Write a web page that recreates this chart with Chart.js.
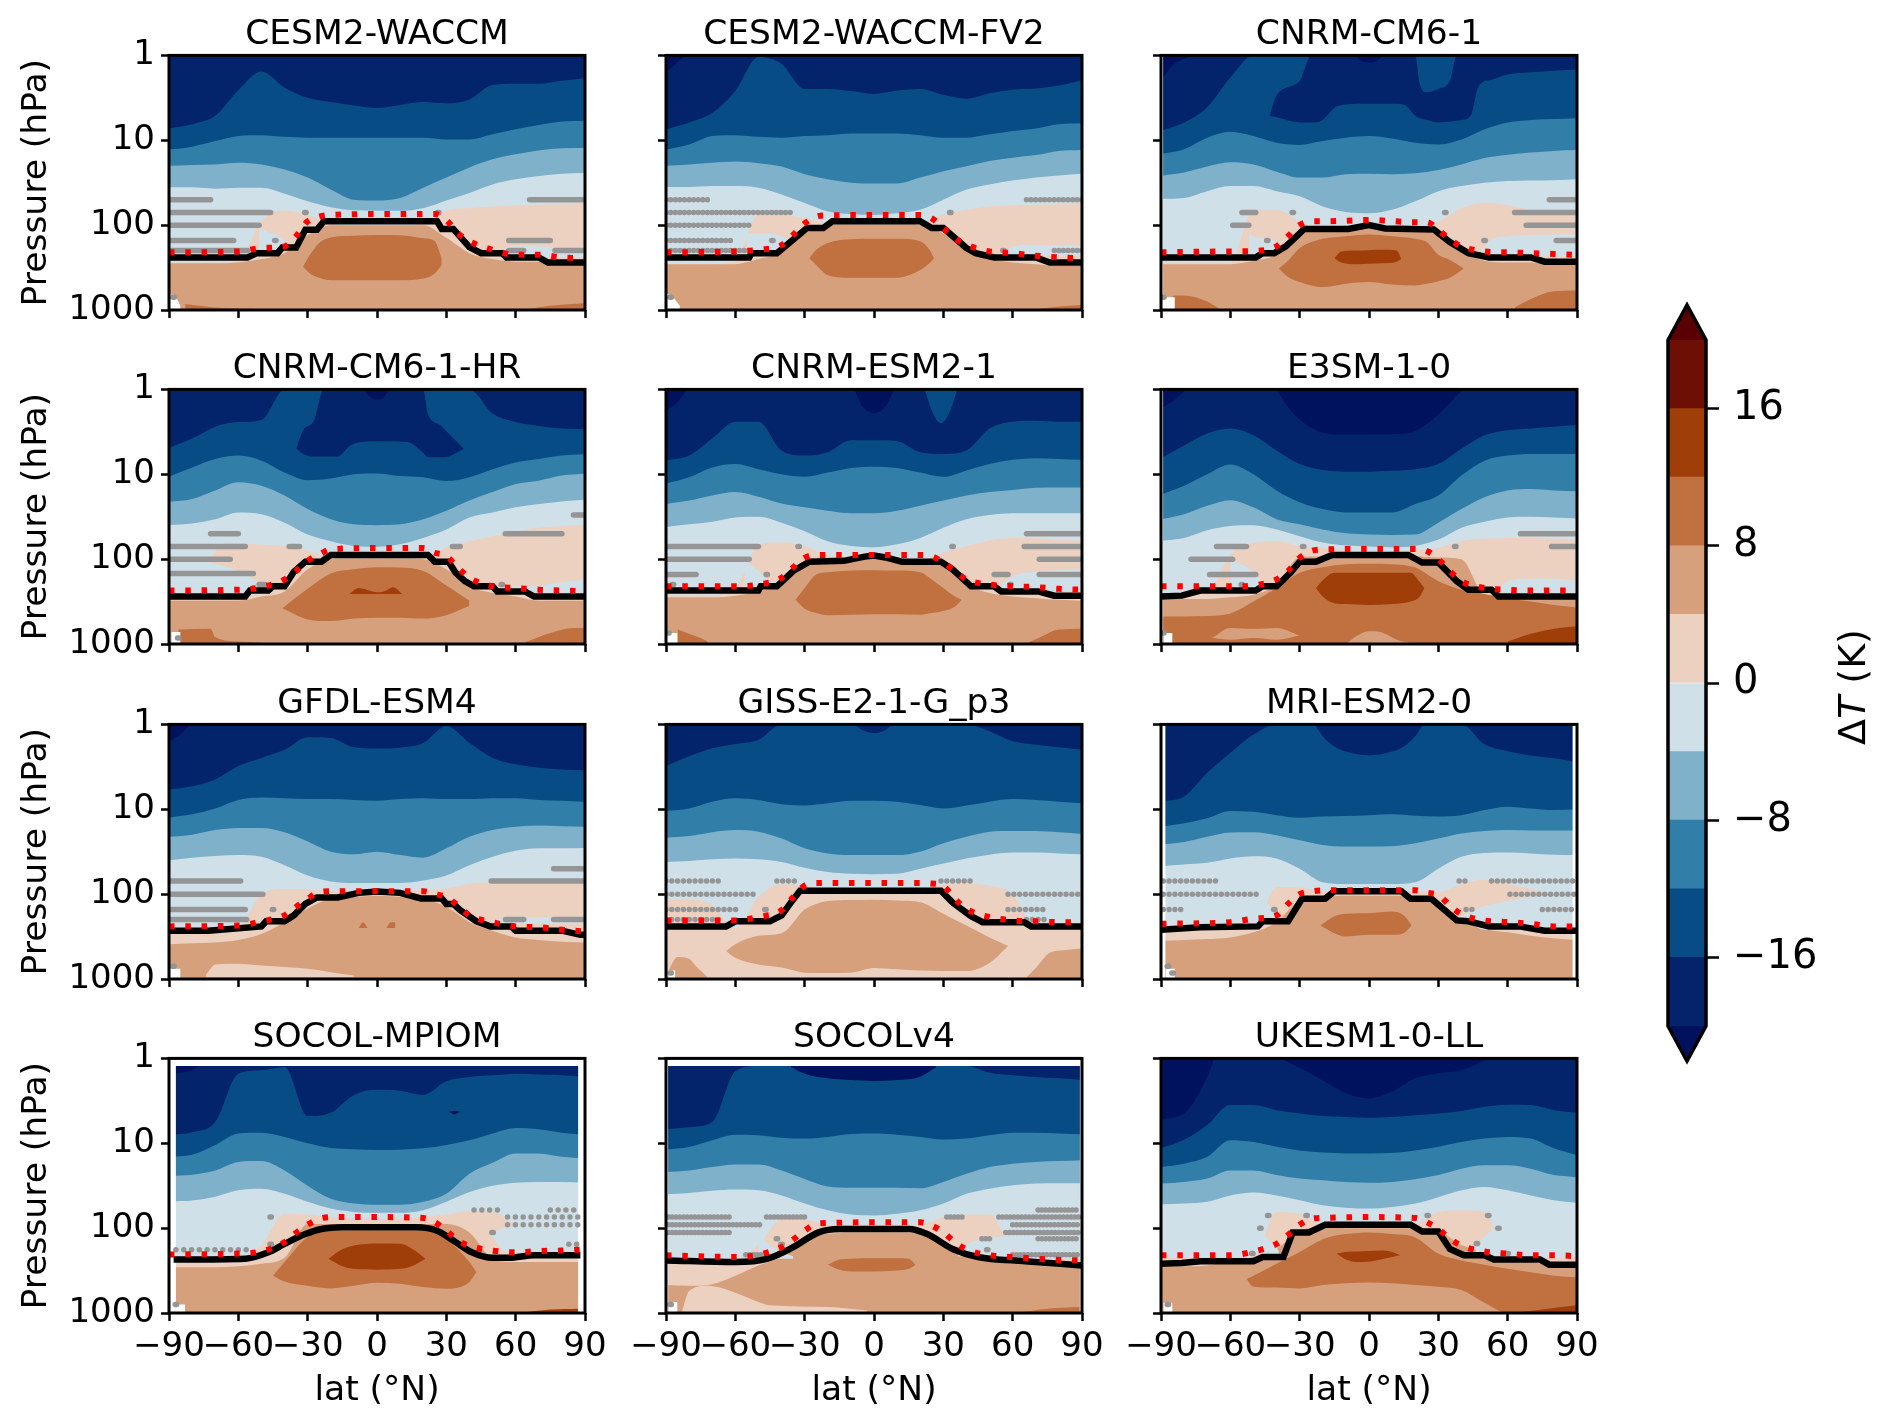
<!DOCTYPE html>
<html><head><meta charset="utf-8">
<style>html,body{margin:0;padding:0;background:#fff;width:1892px;height:1426px;overflow:hidden}
canvas{position:absolute;filter:blur(0.5px)}</style>
<script src="https://cdn.jsdelivr.net/npm/chart.js@4/dist/chart.umd.js"></script>
</head><body>
<script>
const TITLES=['CESM2-WACCM','CESM2-WACCM-FV2','CNRM-CM6-1','CNRM-CM6-1-HR','CNRM-ESM2-1','E3SM-1-0','GFDL-ESM4','GISS-E2-1-G_p3','MRI-ESM2-0','SOCOL-MPIOM','SOCOLv4','UKESM1-0-LL'];
const LATS=[-90,-80,-70,-60,-50,-40,-30,-20,-10,0,10,20,30,40,50,60,70,80,90];
const RED_LATS=[-90,-60,-50,-40,-35,-30,-25,-20,0,20,25,30,35,40,50,60,70,80,90];
const Y_TICKS=[1,10,100,1000];
const X_TICKS=[-90,-60,-30,0,30,60,90];
const CB_EDGES=[-20,-16,-12,-8,-4,0,4,8,12,16,20];
const CB_TICKS=[-16,-8,0,8,16];
const CB_COLORS=['#03246a','#084c86','#317ea8','#7fb1cb','#d0e0e8','#ecd0c0','#d6a07c','#c17040','#a03e0a','#6e0f05'];
const CB_LOW='#00125e',CB_HIGH='#5a0005';
const PAL={DK:CB_LOW,NV:CB_COLORS[0],B2:CB_COLORS[1],BL:CB_COLORS[4],PK:CB_COLORS[5],TN:CB_COLORS[6],OR:CB_COLORS[7],RD:CB_COLORS[8],WH:'#ffffff'};
// all curves: log10(pressure / hPa) on LATS, contour levels -16,-12,-8,-4,0,+4 K
const M16=[
[.86,.81,.71,.41,.19,.38,.50,.55,.59,.62,.585,.55,.565,.52,.35,.335,.335,.30,.27],
[.87,.79,.68,.42,.02,.10,.395,.395,.42,.455,.415,.395,.465,.51,.445,.405,.39,.355,.295],
[.89,.79,.61,.26,0,0,0,0,0,0,0,0,0,0,.30,.225,.20,.18,.17],
[.69,.58,.44,.385,.36,0,0,0,0,0,0,0,0,0,.285,.385,.43,.46,.47],
[.84,.78,.58,.38,.38,.72,.78,.74,.60,.60,.61,.74,.76,.72,.46,.38,.37,.38,.38],
[.81,.66,.52,.46,.54,.72,.88,.95,.97,.97,.96,.94,.88,.70,.54,.48,.46,.44,.42],
[.77,.73,.65,.49,.395,.30,.15,.16,.27,.285,.275,.22,.02,.22,.395,.47,.51,.53,.54],
[.49,.375,.28,.23,.18,0,0,0,0,0,0,0,0,0,.08,.20,.24,.27,.30],
[.91,.85,.57,.335,.12,0,0,0,0,0,0,0,0,0,.235,.315,.365,.40,.445],
[.90,.87,.75,.18,.14,.10,.68,.64,.43,.37,.38,.43,.27,.22,.20,.18,.19,.20,.22],
[.835,.81,.75,.15,.09,.09,.09,.09,.09,.09,.09,.09,.09,.09,.17,.20,.22,.235,.255],
[1.06,.96,.785,.55,.55,.61,.65,.68,.69,.70,.69,.67,.65,.62,.57,.545,.55,.61,.64]];
const M12=[
[1.11,1.075,1.01,.95,.94,.96,.97,.97,.97,.97,.97,.97,.99,.99,.93,.87,.82,.78,.77],
[1.11,1.05,.95,.94,.96,.97,.95,.94,.92,.92,.92,.94,.97,.97,.93,.89,.86,.81,.80],
[1.16,1.105,.97,.90,.95,1.03,1.055,1.01,.97,.95,.98,1.03,1.05,.99,.87,.79,.76,.75,.74],
[1.03,.92,.82,.78,.84,.98,1.07,1.05,1.0,.99,1.02,1.035,1.08,1.035,.94,.86,.82,.78,.765],
[1.11,1.035,.92,.88,.94,1.0,1.03,.98,.925,.91,.925,.98,1.03,.955,.88,.83,.81,.82,.83],
[1.24,1.135,1.0,.885,1.0,1.19,1.33,1.41,1.45,1.45,1.45,1.35,1.25,1.015,.84,.78,.76,.76,.76],
[1.10,1.06,.99,.89,.86,.87,.88,.88,.89,.90,.88,.87,.88,.88,.87,.87,.89,.90,.91],
[1.02,.99,.91,.87,.89,.94,.955,.93,.90,.90,.91,.95,.99,.955,.91,.88,.89,.91,.93],
[1.205,1.165,1.105,1.02,1.03,1.07,1.10,1.085,1.08,1.07,1.06,1.075,1.085,1.07,1.01,.97,.99,1.01,1.0],
[1.16,1.135,1.02,.885,.875,.925,1.0,1.055,1.07,1.08,1.075,1.06,1.02,.965,.885,.82,.835,.875,.90],
[1.075,1.045,.965,.90,.905,.935,.945,.925,.89,.885,.90,.925,.955,.945,.905,.875,.875,.885,.895],
[1.28,1.24,1.16,.965,.985,1.04,1.085,1.11,1.12,1.12,1.115,1.085,1.04,.985,.945,.925,.945,1.06,1.14]];
const M8=[
[1.30,1.29,1.285,1.265,1.285,1.345,1.44,1.58,1.70,1.71,1.68,1.56,1.44,1.32,1.225,1.165,1.12,1.095,1.09],
[1.30,1.285,1.265,1.25,1.27,1.31,1.40,1.46,1.50,1.51,1.51,1.44,1.365,1.305,1.245,1.205,1.175,1.125,1.115],
[1.42,1.38,1.31,1.26,1.285,1.37,1.44,1.44,1.40,1.395,1.40,1.39,1.35,1.285,1.21,1.17,1.145,1.125,1.115],
[1.325,1.29,1.19,1.095,1.135,1.25,1.41,1.53,1.59,1.60,1.59,1.53,1.43,1.31,1.21,1.115,1.075,1.015,.995],
[1.35,1.31,1.25,1.21,1.265,1.345,1.39,1.43,1.46,1.46,1.43,1.37,1.31,1.25,1.21,1.185,1.16,1.155,1.155],
[1.53,1.47,1.37,1.305,1.39,1.53,1.59,1.65,1.695,1.71,1.715,1.71,1.57,1.41,1.27,1.19,1.175,1.19,1.20],
[1.325,1.30,1.245,1.22,1.22,1.27,1.38,1.50,1.53,1.50,1.54,1.57,1.46,1.325,1.245,1.205,1.19,1.20,1.205],
[1.335,1.315,1.27,1.245,1.265,1.345,1.46,1.52,1.54,1.54,1.54,1.50,1.40,1.325,1.265,1.255,1.255,1.27,1.29],
[1.415,1.385,1.325,1.275,1.27,1.305,1.365,1.42,1.44,1.44,1.435,1.40,1.345,1.285,1.255,1.245,1.25,1.25,1.25],
[1.385,1.37,1.32,1.22,1.21,1.32,1.50,1.655,1.71,1.725,1.725,1.69,1.595,1.36,1.23,1.12,1.12,1.16,1.18],
[1.34,1.32,1.28,1.25,1.25,1.32,1.42,1.51,1.525,1.525,1.525,1.53,1.455,1.36,1.28,1.24,1.22,1.21,1.20],
[1.475,1.455,1.415,1.32,1.32,1.375,1.415,1.435,1.455,1.465,1.455,1.425,1.375,1.30,1.26,1.26,1.30,1.375,1.40]];
const M4=[
[1.555,1.555,1.57,1.56,1.56,1.63,1.72,1.79,1.825,1.83,1.83,1.80,1.71,1.62,1.52,1.46,1.42,1.395,1.385],
[1.55,1.55,1.54,1.54,1.56,1.64,1.74,1.84,1.87,1.88,1.86,1.82,1.70,1.58,1.52,1.475,1.44,1.415,1.395],
[1.69,1.68,1.60,1.54,1.54,1.60,1.66,1.78,1.845,1.86,1.82,1.72,1.60,1.54,1.50,1.48,1.475,1.47,1.46],
[1.60,1.58,1.53,1.45,1.47,1.57,1.71,1.79,1.845,1.855,1.825,1.75,1.65,1.51,1.45,1.39,1.35,1.32,1.30],
[1.62,1.59,1.56,1.51,1.50,1.57,1.67,1.79,1.845,1.86,1.825,1.75,1.63,1.53,1.48,1.46,1.46,1.46,1.46],
[1.785,1.75,1.66,1.61,1.60,1.65,1.73,1.805,1.84,1.85,1.86,1.845,1.77,1.63,1.56,1.51,1.50,1.51,1.52],
[1.60,1.57,1.55,1.54,1.56,1.66,1.78,1.85,1.87,1.87,1.87,1.84,1.78,1.66,1.56,1.49,1.46,1.46,1.455],
[1.62,1.61,1.59,1.58,1.59,1.62,1.69,1.74,1.76,1.765,1.76,1.70,1.64,1.58,1.535,1.51,1.51,1.52,1.53],
[1.67,1.65,1.63,1.58,1.555,1.58,1.70,1.86,1.88,1.88,1.88,1.86,1.70,1.56,1.515,1.51,1.52,1.535,1.54],
[1.685,1.675,1.63,1.555,1.535,1.595,1.69,1.77,1.81,1.82,1.82,1.79,1.69,1.575,1.50,1.465,1.455,1.455,1.465],
[1.60,1.585,1.56,1.545,1.555,1.615,1.71,1.79,1.84,1.85,1.83,1.79,1.71,1.595,1.535,1.495,1.475,1.47,1.47],
[1.72,1.71,1.69,1.615,1.58,1.615,1.67,1.73,1.76,1.77,1.75,1.71,1.635,1.555,1.515,1.555,1.615,1.67,1.70]];
const Z0=[
[2.44,2.44,2.44,2.42,1.95,1.83,1.88,1.98,2.0,2.0,2.0,1.98,1.83,1.80,1.78,1.77,1.76,1.75,1.74],
[2.46,2.46,2.46,2.42,1.88,1.88,1.92,1.98,2.0,2.0,2.0,1.98,1.88,1.82,1.78,1.77,1.76,1.75,1.74],
[2.44,2.44,2.44,2.44,1.82,1.82,1.96,2.05,2.05,2.0,2.05,2.05,1.96,1.80,1.74,1.77,1.82,1.86,1.88],
[2.46,2.46,1.905,1.81,1.83,1.845,1.9,1.98,2.0,2.0,2.0,1.98,1.865,1.79,1.73,1.67,1.63,1.61,1.60],
[2.42,2.42,2.42,2.35,1.83,1.80,1.845,1.96,2.0,1.98,2.0,2.0,1.925,1.845,1.78,1.75,1.755,1.775,1.785],
[2.42,2.42,2.40,1.945,1.81,1.785,1.845,1.865,1.9,1.93,1.93,1.90,1.865,1.785,1.76,1.75,1.75,1.76,1.77],
[2.42,2.42,2.42,2.40,2.0,1.94,1.945,1.96,1.96,1.96,1.96,1.955,1.935,1.88,1.86,1.85,1.85,1.85,1.84],
[2.06,2.06,2.13,2.40,2.035,1.88,1.90,1.94,1.94,1.94,1.94,1.94,1.89,1.88,1.90,2.0,2.40,2.40,2.40],
[2.42,2.42,2.42,2.42,2.42,1.915,1.92,1.97,1.97,1.96,1.97,1.97,1.975,1.88,1.83,1.88,1.94,2.01,2.055],
[2.36,2.36,2.36,2.35,2.2,1.83,1.84,1.87,1.89,1.89,1.89,1.87,1.84,1.80,1.81,1.98,2.2,2.36,2.36],
[2.37,2.37,2.37,2.37,2.2,1.90,1.90,1.96,1.96,1.96,1.96,1.96,1.87,1.84,1.84,2.25,2.36,2.36,2.36],
[2.35,2.35,2.35,2.35,2.35,1.81,1.83,1.95,1.95,1.95,1.95,1.95,1.81,1.79,1.81,2.35,2.35,2.35,2.35]];
const T4=[
[2.45,2.45,2.45,2.44,2.40,2.33,2.12,2.0,2.0,2.0,2.0,2.0,2.15,2.33,2.40,2.43,2.43,2.46,2.46],
[2.46,2.46,2.46,2.46,2.40,2.32,2.10,2.0,1.99,1.99,1.99,2.0,2.10,2.30,2.40,2.44,2.46,2.48,2.48],
[2.46,2.46,2.46,2.46,2.42,2.35,2.10,2.06,2.04,2.02,2.04,2.06,2.12,2.32,2.42,2.44,2.44,2.47,2.47],
[2.49,2.49,2.49,2.49,2.44,2.38,2.12,2.0,1.99,1.99,1.99,2.0,2.12,2.32,2.40,2.44,2.49,2.49,2.49],
[2.45,2.45,2.45,2.43,2.38,2.30,2.08,2.02,2.0,1.98,2.0,2.05,2.08,2.30,2.40,2.44,2.46,2.48,2.49],
[2.47,2.47,2.47,2.45,2.42,2.30,1.98,1.97,1.97,1.97,1.97,1.97,1.98,2.0,2.42,2.44,2.47,2.47,2.47],
[2.59,2.58,2.57,2.54,2.47,2.33,2.17,2.055,2.035,2.02,2.035,2.055,2.15,2.33,2.43,2.51,2.54,2.56,2.57],
[3.05,3.05,3.05,3.05,3.05,3.05,3.05,3.05,3.05,3.05,3.05,3.05,3.05,3.05,3.05,3.05,3.05,3.05,3.05],
[2.55,2.54,2.53,2.51,2.45,2.33,2.075,2.035,2.02,2.02,2.02,2.035,2.095,2.29,2.41,2.45,2.49,2.52,2.54],
[2.46,2.46,2.46,2.45,2.42,2.35,1.95,1.95,1.95,1.95,1.95,1.95,1.95,2.05,2.36,2.40,2.40,2.40,2.40],
[2.67,2.68,2.66,2.56,2.44,2.34,2.125,2.07,2.05,2.05,2.05,2.07,2.165,2.32,2.38,2.42,2.44,2.46,2.47],
[2.46,2.45,2.44,2.38,2.34,2.245,2.03,1.99,2.0,2.0,2.0,2.0,2.03,2.2,2.28,2.36,2.40,2.45,2.46]];
// black tropopause line
const TP_LAT=[
[-90,-56,-52,-43,-41,-35,-31,-26,-23,26,28,33,40,45,54,56,70,74,90],
[-90,-54,-53,-42,-29,-22,-18,20,25,30,40,44,52,70,76,90],
[-90,-49,-46,-41,-36,-34,-28,-9,0,7,28,35,43,52,70,76,90],
[-90,-57,-55,-47,-45,-40,-36,-31,-24,-20,22,25,31,34,38,42,50,52,64,68,90],
[-90,-50,-49,-42,-35,-28,-13,-4,0,5,12,29,34,42,52,55,71,78,90],
[-90,-81,-73,-49,-46,-40,-34,-30,-23,-16,17,23,30,38,43,53,56,90],
[-90,-73,-50,-48,-40,-36,-31,-26,-17,-8,0,10,19,28,30,33,36,43,49,58,60,80,88,90],
[-90,-64,-60,-45,-40,-36,-32,29,34,42,47,65,68,90],
[-90,-73,-48,-46,-35,-29,-19,-15,14,18,27,38,43,52,65,76,90],
[-88,-57,-47,-40,-31,-24,-15,17,26,33,41,50,57,68,88],
[-90,-60,-46,-35,-24,-15,15,23,34,45,65,90],
[-90,-81,-73,-50,-46,-37,-33,-26,-19,18,23,30,35,41,50,54,74,78,90]];
const TP_LOG=[
[2.38,2.38,2.33,2.33,2.265,2.265,2.055,2.055,1.955,1.955,2.045,2.045,2.26,2.33,2.33,2.38,2.38,2.44,2.44],
[2.38,2.38,2.33,2.33,2.035,2.035,1.955,1.955,2.035,2.035,2.27,2.33,2.38,2.38,2.44,2.44],
[2.38,2.38,2.33,2.33,2.25,2.2,2.045,2.045,2.0,2.04,2.05,2.2,2.33,2.38,2.38,2.43,2.43],
[2.44,2.44,2.37,2.37,2.32,2.32,2.15,2.03,2.03,1.95,1.95,2.03,2.03,2.16,2.26,2.32,2.32,2.38,2.38,2.44,2.44],
[2.37,2.37,2.32,2.32,2.14,2.03,2.02,1.97,1.957,1.98,2.03,2.03,2.12,2.32,2.32,2.38,2.38,2.43,2.43],
[2.44,2.43,2.37,2.37,2.32,2.32,2.16,2.03,2.03,1.95,1.95,2.04,2.04,2.26,2.36,2.36,2.44,2.44],
[2.43,2.43,2.38,2.32,2.32,2.25,2.115,2.04,2.04,1.985,1.97,1.985,2.05,2.05,2.115,2.115,2.19,2.32,2.38,2.38,2.43,2.43,2.48,2.48],
[2.38,2.38,2.32,2.32,2.25,2.1,1.96,1.96,2.1,2.26,2.33,2.33,2.38,2.38],
[2.42,2.39,2.38,2.32,2.32,2.055,2.055,1.965,1.965,2.055,2.055,2.31,2.32,2.38,2.38,2.43,2.43],
[2.37,2.36,2.285,2.185,2.07,2.01,1.99,1.99,2.03,2.145,2.285,2.35,2.35,2.32,2.32],
[2.38,2.40,2.36,2.225,2.05,2.01,2.01,2.07,2.245,2.34,2.39,2.44],
[2.42,2.41,2.39,2.39,2.34,2.34,2.05,2.05,1.96,1.96,2.04,2.04,2.245,2.32,2.32,2.37,2.37,2.43,2.43]];
const TP_SMOOTH=[false,false,false,false,false,false,false,false,false,true,true,false];
// red dotted line on RED_LATS
const RED=[
[2.32,2.31,2.27,2.25,2.13,1.955,1.90,1.88,1.87,1.87,1.87,1.94,2.095,2.19,2.29,2.35,2.35,2.38,2.39],
[2.32,2.31,2.29,2.235,2.115,1.98,1.90,1.885,1.88,1.88,1.92,2.035,2.155,2.23,2.31,2.33,2.36,2.38,2.39],
[2.32,2.31,2.305,2.25,2.13,2.0,1.955,1.955,1.94,1.965,1.965,2.055,2.17,2.25,2.31,2.32,2.33,2.34,2.35],
[2.37,2.36,2.33,2.24,2.14,2.02,1.945,1.885,1.87,1.87,1.925,1.965,2.10,2.22,2.32,2.34,2.36,2.37,2.38],
[2.32,2.32,2.30,2.22,2.10,1.985,1.95,1.95,1.95,1.95,1.965,2.04,2.14,2.24,2.30,2.32,2.33,2.35,2.36],
[2.32,2.32,2.31,2.24,2.14,1.985,1.905,1.885,1.88,1.88,1.905,2.0,2.14,2.26,2.34,2.36,2.37,2.37,2.37],
[2.38,2.37,2.32,2.25,2.15,2.055,1.975,1.965,1.965,1.965,2.0,2.035,2.135,2.25,2.33,2.38,2.39,2.42,2.44],
[2.31,2.31,2.27,2.19,2.035,1.90,1.87,1.87,1.87,1.87,1.875,1.905,2.055,2.175,2.27,2.31,2.32,2.33,2.33],
[2.35,2.33,2.29,2.25,2.115,2.0,1.97,1.955,1.955,1.955,1.985,2.01,2.135,2.235,2.31,2.33,2.35,2.38,2.38],
[2.31,2.30,2.275,2.165,2.055,1.96,1.89,1.87,1.87,1.88,1.93,2.03,2.145,2.21,2.265,2.285,2.27,2.265,2.25],
[2.32,2.34,2.315,2.225,2.135,2.03,1.95,1.94,1.93,1.93,1.97,2.05,2.165,2.25,2.32,2.34,2.36,2.375,2.38],
[2.32,2.32,2.275,2.185,2.08,1.96,1.89,1.88,1.87,1.88,1.93,2.01,2.125,2.205,2.275,2.30,2.32,2.32,2.33]];
// extra closed contour regions: [colour, lats, upper edge, lower edge]
const PATCHES=[
[['OR',[-32,-29,-25,-20,-10,0,10,20,25,28],[2.49,2.35,2.21,2.145,2.125,2.115,2.12,2.155,2.19,2.39],[2.49,2.57,2.62,2.65,2.65,2.65,2.65,2.63,2.57,2.47]],
 ['BL',[53,60,70,80,90],[2.30,2.24,2.25,2.28,2.29],2.38],
 ['BL',[-51,-47,-43,-39],[2.03,2.08,2.12,2.2],[2.3,2.3,2.28,2.22]],
 ['OR',[-83,-70,-50],[2.93,2.97,2.99],3],['OR',[65,75,90],[2.99,2.95,2.92],3],
 ['WH',[-90,-88,-85],[2.82,2.82,2.95],3]],
[['DK',[-90,-85,-82],0,[.2,.08,0]],
 ['OR',[-28,-25,-20,-10,0,10,20,24,26],[2.39,2.29,2.21,2.165,2.16,2.16,2.19,2.29,2.39],[2.39,2.47,2.59,2.62,2.62,2.62,2.53,2.45,2.39]],
 ['BL',[55,65,90],[2.3,2.23,2.24],2.36],
 ['BL',[-55,-50,-45,-40,-36],[2.1,2.1,2.1,2.13,2.2],[2.36,2.33,2.3,2.27,2.22]],
 ['OR',[70,80,90],[2.99,2.96,2.94],3],
 ['WH',[-90,-87,-84],[2.8,2.85,2.95],3]],
[['DK',[-90,-85,-80,-76],0,[.3,.12,.04,0]],
 ['NV',[-43,-40,-30,-25,-20,-15,-10,0,10,15,20,22,25,30,35,38,40,44,47,50],[.71,.47,.30,0,0,0,0,0,0,0,0,.34,.435,.395,.30,0,0,0,0,.30],[.71,.73,.79,.79,.76,.62,.58,.57,.57,.58,.71,.74,.76,.79,.78,.77,.76,.71,.39,.30]],
 ['DK',[-6,-3,0,3,6],0,[0,.07,.09,.07,0]],
 ['BL',[47,52,60,70,80,90],[2.37,2.19,2.13,2.12,2.11,2.105],2.37],
 ['BL',[-52,-48,-44,-40,-37],[2.1,2.15,2.15,2.2,2.25],[2.37,2.36,2.33,2.3,2.26]],
 ['OR',[-39,-35,-30,-25,-20,-10,0,10,20,25,30,35,41],[2.51,2.42,2.27,2.2,2.16,2.13,2.11,2.13,2.16,2.2,2.35,2.41,2.51],[2.51,2.61,2.67,2.71,2.73,2.69,2.67,2.70,2.71,2.69,2.66,2.62,2.51]],
 ['RD',[-15,-12,-5,5,12,14],[2.39,2.31,2.30,2.29,2.3,2.4],[2.39,2.44,2.46,2.45,2.43,2.4]],
 ['OR',[-85,-80,-70,-65],[2.83,2.83,2.9,2.98],3],['OR',[63,70,80,90],[2.97,2.87,2.78,2.77],3],
 ['WH',[-90,-89],0,3],['WH',[-90,-84],2.85,3]],
[['NV',[-35,-32,-27.3,-23,-17,-11.5,-1,13,20,22,27.3,31,37.5],[.70,.48,.365,0,0,0,0,0,0,.285,.42,.52,.70],[.70,.76,.79,.79,.79,.66,.61,.62,.75,.80,.80,.79,.70]],
 ['DK',[-6,-3,0,3,5],0,[0,.09,.12,.09,0]],
 ['BL',[-90,-75,-60,-50],[2.0,2.03,2.14,2.3],2.42],['BL',[50,60,70,80,90],[2.33,2.32,2.31,2.27,2.24],2.4],
 ['OR',[-41,-30,-20,-10,0,10,20,30,40],[2.58,2.35,2.17,2.12,2.095,2.10,2.14,2.31,2.49],[2.58,2.71,2.73,2.70,2.69,2.69,2.70,2.66,2.55]],
 ['RD',[-12,-8,-2,0,3,7,11],[2.41,2.34,2.38,2.39,2.38,2.33,2.41],2.41],
 ['OR',[-86,-72,-70,-60,-48],[2.83,2.82,2.92,2.97,2.99],3],['OR',[64,75,85,90],[2.98,2.87,2.81,2.81],3],
 ['WH',[-89,-85],2.86,3]],
[['DK',[-90,-85,-81],0,[.25,.15,0]],['DK',[-8.5,-5,0,5,8.8],0,[0,.2,.28,.2,0]],
 ['B2',[22,25,29,33,36],0,[0,.25,.40,.25,0]],
 ['BL',[53,60,70,80,90],[2.35,2.2,2.15,2.13,2.12],2.38],
 ['BL',[-56,-50,-46,-42],[2.0,2.14,2.24,2.30],[2.34,2.32,2.32,2.30]],
 ['OR',[-34,-30,-25,-20,-10,0,10,20,25,30,35,38],[2.48,2.34,2.18,2.155,2.135,2.13,2.135,2.155,2.24,2.34,2.44,2.48],[2.48,2.585,2.635,2.66,2.655,2.65,2.65,2.655,2.635,2.61,2.56,2.48]],
 ['OR',[-85,-78,-75,-72],[2.83,2.9,2.93,2.97],3],['OR',[67,72,80,90],[2.98,2.92,2.83,2.82],3],
 ['WH',[-90,-85],2.87,3]],
[['DK',[-90,-85,-79],0,[.225,.14,0]],['DK',[-40,-34,-23,-12,0,16,27,40.6],0,[0,.245,.48,.53,.53,.52,.365,0]],
 ['BL',[54,60,70,80,90],[2.4,2.26,2.23,2.23,2.25],2.42],
 ['BL',[-60,-50,-46,-44],[2.0,2.15,2.28,2.31],[2.37,2.37,2.32,2.31]],
 ['OR',[-90,-80,-70,-60,-50,-40,-30,-20,-10,0,10,20,30,40,50,60,70,80,90],[2.675,2.675,2.67,2.64,2.50,2.34,2.16,2.095,2.06,2.055,2.06,2.10,2.26,2.36,2.41,2.46,2.50,2.54,2.57],3],
 ['TN',[-68,-60,-50,-40,-30],[2.93,2.81,2.82,2.81,2.9],[2.93,2.95,2.93,2.95,2.9]],
 ['TN',[-10,-5,0,5,12,20],[3,2.9,2.85,2.86,2.95,3],3],
 ['RD',[-23,-20,-15,-10,0,10,18,22,24],[2.34,2.25,2.16,2.16,2.16,2.16,2.16,2.27,2.34],[2.34,2.44,2.52,2.53,2.54,2.53,2.50,2.44,2.34]],
 ['RD',[60,70,80,90],[2.97,2.88,2.82,2.79],3],
 ['WH',[-90,-89],0,3],['WH',[-89,-85],2.87,3]],
[['DK',[-90,-85,-81],0,[.2,.12,0]],
 ['BL',[50,60,70,80,90],[2.3,2.26,2.27,2.27,2.26],2.35],
 ['PK',[-74,-70,-60,-50,-40,-30,-20,-10],[2.95,2.83,2.82,2.84,2.86,2.88,2.92,2.96],2.98],
 ['OR',[-8,-6,-4],[2.40,2.33,2.40],2.40],['OR',[4,6,8],[2.40,2.33,2.33],2.40],
 ['WH',[-90,-85],2.88,3]],
[['NV',[-8.5,-4,0,4,8],0,[0,.08,.10,.08,0]],
 ['TN',[-64,-60,-50,-40,-30,-25,-20,-10,0,10,20,30,40,50,58],[2.67,2.59,2.49,2.46,2.18,2.115,2.08,2.07,2.065,2.075,2.095,2.23,2.37,2.51,2.61],[2.67,2.75,2.83,2.865,2.925,2.93,2.93,2.925,2.87,2.885,2.90,2.905,2.905,2.81,2.61]],
 ['TN',[66,70,76,82,90],[2.98,2.87,2.69,2.66,2.64],3],
 ['TN',[-89,-85,-80,-77,-72],[2.9,2.74,2.76,2.85,2.98],3],
 ['WH',[-89,-86],2.9,3]],
[['NV',[-23,-20,-15,-10,0,10,15,20,23],0,[.02,.14,.26,.32,.365,.32,.26,.14,.02]],
 ['BL',[38,45,50,60,70,80,90],[2.29,2.2,2.14,2.08,2.03,2.02,2.06],[2.29,2.37,2.42,2.42,2.42,2.42,2.42]],
 ['BL',[-50,-46,-41,-38],[2.0,2.05,2.2,2.3],[2.38,2.32,2.31,2.3]],
 ['OR',[-21,-15,-10,0,10,15,18.5],[2.37,2.26,2.23,2.225,2.205,2.25,2.37],[2.37,2.46,2.50,2.48,2.48,2.46,2.37]],
 ['WH',[-90,-88],0,3],['WH',[88,90],0,3],['WH',[-88,-84],2.88,3]],
[['DK',[-87,-80,-77],.09,[.18,.14,.09]],
 ['DK',[31,33.5,36],[.63,.62,.63],[.63,.66,.63]],
 ['BL',[49,54,60,70,90],[2.07,2.0,1.98,1.9,1.8],[2.07,2.25,2.32,2.34,2.36]],
 ['OR',[-45,-40,-30,-20,-10,0,10,20,30,40,43],[2.56,2.40,2.105,2.03,2.03,2.03,2.03,2.03,2.13,2.40,2.52],[2.56,2.63,2.68,2.71,2.68,2.645,2.655,2.695,2.715,2.635,2.52]],
 ['RD',[-21,-15,-10,0,10,15,21],[2.36,2.25,2.205,2.18,2.185,2.24,2.36],[2.36,2.45,2.48,2.49,2.48,2.45,2.36]],
 ['RD',[62,75,87],[3,2.96,2.95],3],
 ['WH',[-90,-87],0,3],['WH',[87,90],0,3],['WH',[-90,90],0,.09],['WH',[-87,-83],2.9,3]],
[['DK',[-36,-30,-20,-10,0,10,20,27],.09,[.10,.18,.235,.255,.265,.255,.215,.10]],
 ['BL',[-50,-45,-40,-35],[2.05,2.2,2.28,2.33],2.36],['BL',[36,40,50,60],[2.33,2.2,2.12,2.08],[2.33,2.33,2.35,2.36]],
 ['PK',[-83,-80,-72,-60,-50,-45,-20,-3],[2.97,2.74,2.68,2.76,2.87,2.91,2.93,2.97],3],
 ['OR',[-20,-15,-10,0,10,15,18],[2.43,2.37,2.36,2.355,2.355,2.36,2.43],[2.43,2.49,2.51,2.51,2.50,2.48,2.43]],
 ['OR',[62,75,89],[3,2.95,2.93],3],
 ['WH',[-90,-89],0,3],['WH',[89,90],0,3],['WH',[-90,90],0,.09],['WH',[-89,-85],2.87,3]],
[['DK',[-90,-80,-70,-67],0,[.72,.65,.22,0]],['DK',[-38,-28,-20,-10,0,10,20,30,40,52],0,[0,.14,.26,.41,.47,.39,.235,.175,.14,0]],
 ['BL',[-47,-44,-41,-39],[2.05,2.12,2.2,2.27],[2.34,2.34,2.34,2.3]],
 ['BL',[46,50,54,58],[2.2,2.1,2.0,1.95],[2.3,2.34,2.37,2.37]],
 ['OR',[-53,-50,-40,-30,-20,-10,0,10,20,30,40,50,60,70,80,90],[2.60,2.56,2.42,2.28,2.13,2.07,2.05,2.07,2.11,2.30,2.38,2.43,2.48,2.52,2.56,2.58],[2.60,2.69,2.70,2.71,2.67,2.65,2.64,2.65,2.67,2.69,2.73,2.88,3,3,3,3]],
 ['RD',[-14,-10,-5,0,5,10,13.5],[2.30,2.28,2.275,2.27,2.265,2.28,2.32],[2.30,2.37,2.40,2.395,2.37,2.34,2.32]],
 ['RD',[63,75,90],[3,2.96,2.91],3],
 ['WH',[-89,-85],2.88,3]]];
// significance stippling rows: [log10 p, first lat, last lat]
const STIPPLE=[
[[1.70,-90,-72],[1.70,66,90],[1.85,-90,-46],[1.85,-31,-31],[1.85,26.5,26.5],[2.0,-90,-51],[2.18,-90,-62],[2.18,-44,-44],[2.18,57,75],[2.30,-90,-56],[2.30,57,63.5],[2.30,77,90],[2.85,-88,-88]],
[[1.70,-90,-70.5],[1.70,66,90],[1.85,-90,-35],[1.85,33,33],[2.0,-90,-54],[2.18,-90,-61],[2.18,-44,-44],[2.30,-90,-54],[2.30,56,56],[2.30,78,90],[2.85,-88,-88]],
[[1.70,78,90],[1.85,-55,-49],[1.85,-33,-33],[1.85,33,33],[1.85,63,90],[2.0,-59,-52],[2.0,68,90],[2.18,-44,-44],[2.18,50,50],[2.18,81,90],[2.85,-89,-89]],
[[1.48,85,90],[1.70,-72,-60],[1.70,55.5,80],[1.85,-90,-57],[1.85,-38,-33.5],[1.85,32.6,36],[2.0,-90,-63.5],[2.17,-90,-53.5],[2.30,-51,-48.5],[2.30,54,54],[2.93,-86,-86]],
[[1.70,66,90],[1.85,-90,-50],[1.85,-32.6,-32.6],[1.85,34,34],[1.85,65,90],[2.0,-90,-54],[2.0,71.5,90],[2.18,-90,-77],[2.18,-46.4,-46.4],[2.18,52,58],[2.18,71.5,90],[2.30,-87,-87],[2.30,59,59],[2.87,-89,-89]],
[[1.70,65.5,90],[1.85,-66,-53],[1.85,-28.5,-28.5],[1.85,37.3,37.3],[1.85,79,90],[2.0,-77,-59],[2.18,-69,-49],[2.30,-55,-55],[2.87,-89,-89]],
[[1.70,76.4,90],[1.845,-90,-59],[1.845,49.4,90],[2.0,-90,-49.4],[2.18,-90,-57],[2.18,-45,-45],[2.30,-90,-56.4],[2.30,55.6,63.5],[2.30,76.4,90],[2.85,-88,-88]],
[[1.845,-90,-66.5],[1.845,-42,-32],[1.845,29,44],[2.0,-90,-50],[2.0,58,90],[2.18,-90,-58],[2.18,-47,-47],[2.18,58,73.5],[2.30,-90,-66.5],[2.30,66,74.5],[2.93,-88,-88]],
[[1.845,-89,-64],[1.845,39,43],[1.845,53,89],[2.0,-89,-48],[2.0,61,89],[2.18,-89,-81],[2.18,-41,-41],[2.18,42,46],[2.18,75,89],[2.85,-87,-87],[2.93,-85,-85]],
[[1.785,42,55],[1.785,75,87],[1.87,-46,-46],[1.87,56.5,87],[1.96,56.5,87],[2.05,50,50],[2.19,-46,-46],[2.19,83,87],[2.256,-87,-55.5],[2.9,-87,-87]],
[[1.785,71,89],[1.87,-89,-62],[1.87,-46.5,-30],[1.87,31.5,38.4],[1.87,54,89],[1.96,-89,-48.5],[1.96,60,89],[2.05,-89,-62],[2.05,57,89],[2.125,-42,-42],[2.125,46.7,50],[2.125,71,89],[2.19,-40,-40],[2.255,49,49],[2.315,-55.5,-48.5],[2.315,60,89],[2.9,-88,-88]],
[[1.85,-43.6,-43.6],[1.85,-27,-27],[1.85,25.4,25.4],[1.85,51.6,51.6],[2.0,-47,-47],[2.0,56,56],[2.18,46.7,46.7],[2.30,-50.5,-50.5],[2.30,60,60],[2.9,-87,-87]]];
const STIP_DASH=[[],[0,4.6],[],[],[],[],[],[0,5.8],[0,5.8],[0,7.8],[0,3.8],[]];

Chart.defaults.font.family='"DejaVu Sans"';
Chart.defaults.color='#000';
const COL_X=[169,665.5,1160.5],ROW_Y=[55,389.5,724,1058],PW=416,PH=254;
const FS=34.5,TFS=34;
const frame={id:'frame',afterDraw(c){const a=c.chartArea,x=c.ctx;x.save();x.strokeStyle='#000';x.lineWidth=3;x.strokeRect(a.left,a.top,a.right-a.left,a.bottom-a.top);x.restore();}};
const pts=(lats,vals)=>lats.map((x,i)=>({x,y:10**(Array.isArray(vals)?vals[i]:vals)}));

function buildDatasets(k){
  const out=[];const add=d=>{d.order=100000-out.length;out.push(d);return d;};
  const fillCurve=(vals,color)=>add({data:pts(LATS,vals),borderWidth:0,pointRadius:0,cubicInterpolationMode:'monotone',fill:{value:1000},backgroundColor:color});
  fillCurve(0,CB_COLORS[0]);
  fillCurve(M16[k],CB_COLORS[1]);
  fillCurve(M12[k],CB_COLORS[2]);
  fillCurve(M8[k],CB_COLORS[3]);
  fillCurve(M4[k],CB_COLORS[4]);
  fillCurve(Z0[k],CB_COLORS[5]);
  fillCurve(T4[k],CB_COLORS[6]);
  for(const [c,lats,top,bot] of PATCHES[k]){
    add({data:pts(lats,top),borderWidth:0,pointRadius:0,cubicInterpolationMode:'monotone',fill:'+1',backgroundColor:PAL[c]});
    add({data:pts(lats,bot),borderWidth:0,pointRadius:0,cubicInterpolationMode:'monotone',fill:false});
  }
  for(const [lp,a,b] of STIPPLE[k]){
    const lo=a===b?a-.3:a,hi=a===b?b+.3:b;
    add({data:pts([lo,hi],lp),borderColor:'#959595',borderWidth:5.5,borderCapStyle:'round',borderDash:a===b?[]:STIP_DASH[k],pointRadius:0,fill:false});
  }
  add({data:pts(TP_LAT[k],TP_LOG[k]),borderColor:'#000',borderWidth:6.5,pointRadius:0,fill:false,borderJoinStyle:'miter',...(TP_SMOOTH[k]?{cubicInterpolationMode:'monotone'}:{})});
  add({data:pts(RED_LATS,RED[k]),borderColor:'#ff0000',borderWidth:6,borderDash:[5.5,10.8],pointRadius:0,fill:false,cubicInterpolationMode:'monotone'});
  return out;
}

TITLES.forEach((name,k)=>{
  const col=k%3,row=Math.floor(k/3),isLeft=col===0,isBottom=row===3;
  const Lm=isLeft?169:60,Rm=48,Hb=isBottom?100:30,Th=42;
  const cv=document.createElement('canvas');
  const W=Lm+PW+Rm,H=Th+PH+Hb;
  cv.width=W;cv.height=H;cv.style.width=W+'px';cv.style.height=H+'px';
  document.body.appendChild(cv);
  const chart=new Chart(cv,{type:'line',data:{datasets:buildDatasets(k)},plugins:[frame],options:{
    responsive:false,animation:false,devicePixelRatio:1,
    layout:{padding:{right:Rm,left:0,top:0,bottom:0}},
    plugins:{legend:{display:false},tooltip:{enabled:false},
      title:{display:true,text:name,fullSize:false,font:{size:FS,weight:'normal'},color:'#000',padding:{top:0,bottom:0}}},
    scales:{
      x:{type:'linear',min:-90,max:90,afterFit:s=>{s.height=Hb;},afterBuildTicks:s=>{s.ticks=X_TICKS.map(v=>({value:v}));},
        grid:{drawOnChartArea:false,drawTicks:true,tickLength:8,tickWidth:2.5,tickColor:'#000'},border:{display:false},
        ticks:{display:isBottom,autoSkip:false,maxRotation:0,minRotation:0,padding:6,font:{size:TFS},color:'#000',callback:v=>String(v).replace('-','\u2212')},
        title:{display:isBottom,text:'lat (\u00b0N)',font:{size:FS},color:'#000',padding:1}},
      y:{type:'logarithmic',reverse:true,min:1,max:1000,afterFit:s=>{s.width=Lm;},afterBuildTicks:s=>{s.ticks=Y_TICKS.map(v=>({value:v}));},
        grid:{drawOnChartArea:false,drawTicks:true,tickLength:8,tickWidth:2.5,tickColor:'#000'},border:{display:false},
        ticks:{display:isLeft,autoSkip:false,padding:6,font:{size:TFS},color:'#000',callback:v=>String(v)},
        title:{display:isLeft,text:'Pressure (hPa)',font:{size:FS},color:'#000',padding:16}}
    }}});
  const a=chart.chartArea;
  cv.style.left=(COL_X[col]-a.left)+'px';
  cv.style.top=(ROW_Y[row]-a.top)+'px';
});

// colour bar
(function(){
  const cv=document.createElement('canvas');
  const W=244,H=800;
  cv.width=W;cv.height=H;cv.style.width=W+'px';cv.style.height=H+'px';
  document.body.appendChild(cv);
  const TIP=35;
  const cbDeco={id:'cbDeco',afterDraw(c){
    const {left:l,right:r,top:t,bottom:b}=c.chartArea,x=c.ctx,m=(l+r)/2;
    x.save();
    x.fillStyle=CB_HIGH;x.beginPath();x.moveTo(l,t);x.lineTo(m,t-TIP);x.lineTo(r,t);x.closePath();x.fill();
    x.fillStyle=CB_LOW;x.beginPath();x.moveTo(l,b);x.lineTo(m,b+TIP);x.lineTo(r,b);x.closePath();x.fill();
    x.strokeStyle='#000';x.lineWidth=3.5;x.lineJoin='miter';
    x.beginPath();x.moveTo(l,t);x.lineTo(m,t-TIP);x.lineTo(r,t);x.lineTo(r,b);x.lineTo(m,b+TIP);x.lineTo(l,b);x.closePath();x.stroke();
    // axis label
    const cx=1855-1668+l,cy=(t+b)/2+4;
    x.translate(cx,cy);x.rotate(-Math.PI/2);x.fillStyle='#000';x.textBaseline='middle';x.textAlign='left';
    const runs=[['\u0394','38px "DejaVu Sans"'],['T','italic 38px "DejaVu Sans"'],[' (K)','38px "DejaVu Sans"']];
    let w=0;runs.forEach(([s,f])=>{x.font=f;w+=x.measureText(s).width;});
    let px=-w/2;runs.forEach(([s,f])=>{x.font=f;x.fillText(s,px,0);px+=x.measureText(s).width;});
    x.restore();
  }};
  const chart=new Chart(cv,{type:'bar',
    data:{labels:['\u0394T'],datasets:CB_COLORS.map((c,i)=>({data:[[CB_EDGES[i],CB_EDGES[i+1]]],backgroundColor:c,borderWidth:0,grouped:false,barPercentage:1,categoryPercentage:1}))},
    plugins:[cbDeco],
    options:{responsive:false,animation:false,devicePixelRatio:1,
      layout:{padding:{left:20,right:0,top:57,bottom:57}},
      plugins:{legend:{display:false},tooltip:{enabled:false}},
      scales:{x:{display:false},
        y:{position:'right',min:-20,max:20,afterFit:s=>{s.width=186;},afterBuildTicks:s=>{s.ticks=CB_TICKS.map(v=>({value:v}));},
          grid:{drawOnChartArea:false,drawTicks:true,tickLength:13,tickWidth:2.5,tickColor:'#000'},border:{display:false},
          ticks:{padding:14,autoSkip:false,font:{size:40},color:'#000',callback:v=>String(v).replace('-','\u2212')}}}}});
  const a=chart.chartArea;
  cv.style.left=(1668-a.left)+'px';
  cv.style.top=(340-a.top)+'px';
})();
</script>
</body></html>
